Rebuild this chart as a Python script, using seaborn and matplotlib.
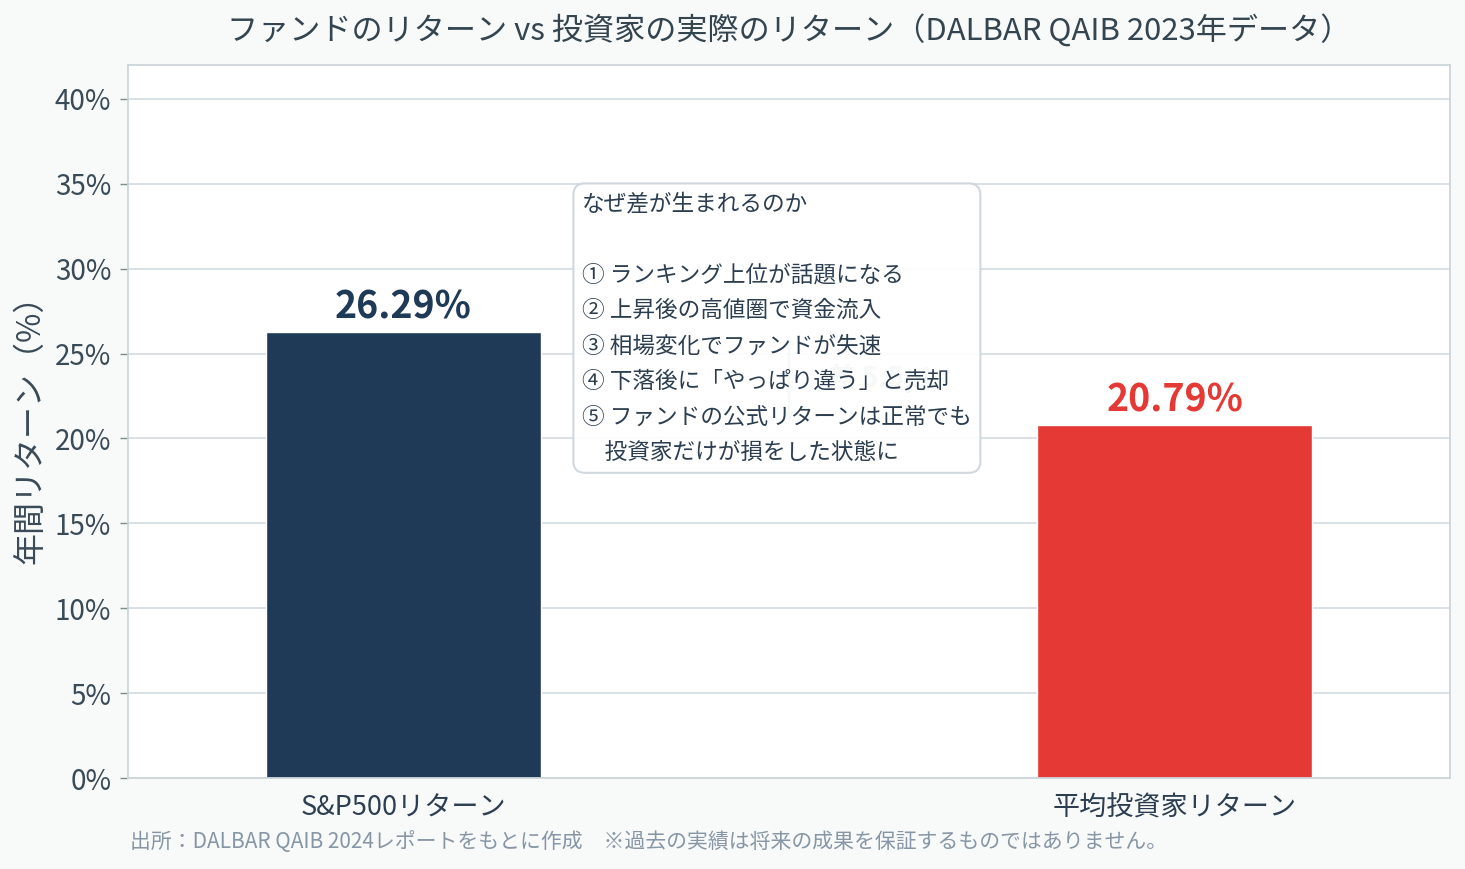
import matplotlib
matplotlib.use("Agg")
import matplotlib.pyplot as plt
import seaborn as sns
import pandas as pd

categories = ["S&P500リターン", "平均投資家リターン"]
returns = [26.29, 20.79]
bar_colors = ["#1f3a56", "#e53935"]
value_labels = ["26.29%", "20.79%"]
yticks = [0, 5, 10, 15, 20, 25, 30, 35, 40]
ytick_labels = [f"{v}%" for v in yticks]
gap_label = "差 5.5pt"
title = "ファンドのリターン vs 投資家の実際のリターン（DALBAR QAIB 2023年データ）"
ylabel = "年間リターン（%）"
note_text = ("なぜ差が生まれるのか\n\n"
             "① ランキング上位が話題になる\n"
             "② 上昇後の高値圏で資金流入\n"
             "③ 相場変化でファンドが失速\n"
             "④ 下落後に「やっぱり違う」と売却\n"
             "⑤ ファンドの公式リターンは正常でも\n"
             "　投資家だけが損をした状態に")
footnote = "出所：DALBAR QAIB 2024レポートをもとに作成　※過去の実績は将来の成果を保証するものではありません。"

sns.set_theme(style="whitegrid")
plt.rcParams['font.family'] = ['Noto Sans CJK JP', 'DejaVu Sans']

TEXT = "#2c3e50"
GRID = "#d3dce1"

fig = plt.figure(figsize=(14.65, 8.69), dpi=100, facecolor="#f8f9f9")
ax = fig.add_axes([128/1465, 1 - 778/869, (1450-128)/1465, (778-65)/869])
ax.set_facecolor("white")

df = pd.DataFrame({"cat": categories, "ret": returns})
sns.barplot(data=df, x="cat", y="ret", hue="cat", palette=bar_colors,
            legend=False, width=0.357, ax=ax, saturation=1, zorder=2)

ax.set_xlim(-0.357, 1.357)
ax.set_ylim(0, 42)
ax.set_yticks(yticks)
ax.set_yticklabels(ytick_labels)
ax.grid(axis="y", color=GRID, linewidth=1.2, zorder=0)
ax.grid(axis="x", visible=False)
ax.set_axisbelow(True)
for s in ax.spines.values():
    s.set_color("#cdd5da")
    s.set_linewidth(1.3)
ax.tick_params(axis="y", left=True, length=6, width=1, color="#7f8c8d",
               labelsize=20, labelcolor="#3a4a56", pad=6)
ax.tick_params(axis="x", length=0, labelsize=19.5, labelcolor=TEXT, pad=12)
ax.set_xlabel("")
ax.set_ylabel(ylabel, fontsize=23, color="#3a4a56", labelpad=6)
ax.set_title(title, fontsize=22.4, color="#34454f", pad=18)

for i, (v, lab) in enumerate(zip(returns, value_labels)):
    ax.annotate(lab, (i, v), xytext=(0, 4), textcoords="offset points",
                ha="center", va="bottom", fontsize=27, fontweight="bold",
                color=bar_colors[i], zorder=3)

# gap arrow (behind the note box)
ax.annotate("", xy=(0.5, returns[1]), xytext=(0.5, returns[0]),
            arrowprops=dict(arrowstyle="<->", color="#95a5a6", lw=2), zorder=3)
ax.text(0.55, (returns[0] + returns[1]) / 2, gap_label, fontsize=20,
        fontweight="bold", color="#95a5a6", va="center", ha="left", zorder=3)

ax.text((582-128)/1322, (778-192)/713, note_text, transform=ax.transAxes,
        fontsize=16.3, color=TEXT, va="top", ha="left", linespacing=1.70,
        zorder=5,
        bbox=dict(boxstyle="round,pad=0.38,rounding_size=0.5", facecolor="white",
                  edgecolor="#cdd5da", linewidth=1.5, alpha=0.92))

fig.text(130/1465, 1 - 842/869, footnote, fontsize=15, color="#8796a5",
         ha="left", va="center")

fig.savefig("out.png", dpi=100, facecolor=fig.get_facecolor())
